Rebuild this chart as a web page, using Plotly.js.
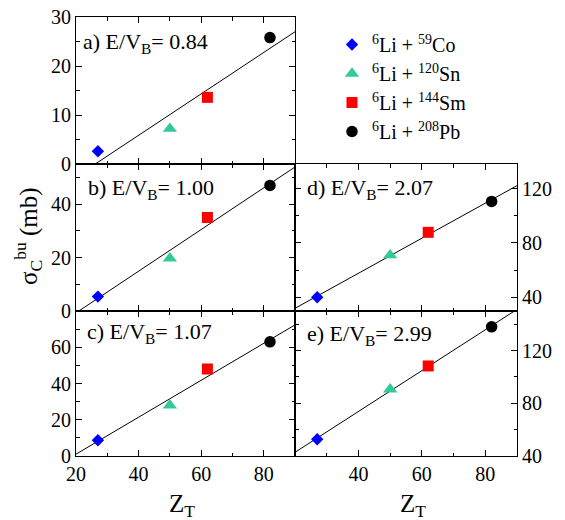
<!DOCTYPE html>
<html>
<head>
<meta charset="utf-8">
<script src="https://cdn.plot.ly/plotly-3.0.1.min.js"></script>
<style>html,body{margin:0;padding:0;background:#fff;}#chart{width:565px;height:520px;}</style>
</head>
<body>
<div id="chart"></div>
<script>
// ---- data ----
const Z_T = [27, 50, 62, 82];                       // target charge
const systems = ["<sup>6</sup>Li + <sup>59</sup>Co",
                 "<sup>6</sup>Li + <sup>120</sup>Sn",
                 "<sup>6</sup>Li + <sup>144</sup>Sm",
                 "<sup>6</sup>Li + <sup>208</sup>Pb"];
const symbols = ["diamond", "triangle-up", "square", "circle"];
const colors  = ["#0000ff", "#33c99a", "#ff0000", "#000000"];

const panelLabels = ["a) E/V<sub>B</sub>= 0.84", "b) E/V<sub>B</sub>= 1.00",
                     "c) E/V<sub>B</sub>= 1.07", "d) E/V<sub>B</sub>= 2.07",
                     "e) E/V<sub>B</sub>= 2.99"];
const sigmaA = [2.6, 7.2, 13.6, 25.8];   // E/VB = 0.84
const sigmaB = [5.4, 19.7, 35.0, 47.0];  // E/VB = 1.00
const sigmaC = [8.7, 28.0, 48.0, 63.0];  // E/VB = 1.07
const sigmaD = [40.1, 71.0, 87.8, 110.5];// E/VB = 2.07
const sigmaE = [52.7, 90.6, 108.3, 138.0];// E/VB = 2.99

const xRange = [20, 90];
const xTickVals = [20, 40, 60, 80];
const yRanges = [[0, 30], [0, 55], [0, 80], [30, 138], [40, 150]];
const yTickVals = [[0, 10, 20, 30], [0, 20, 40], [0, 20, 40, 60], [40, 80, 120], [40, 80, 120]];

// ---- layout helpers ----
const FONT = "Liberation Serif";
const W = 565, H = 520, mL = 76, mR = 48, mT = 17, mB = 64;
const pw = W - mL - mR, ph = H - mT - mB;
const px2x = p => (p - mL) / pw;
const px2y = p => (H - mB - p) / ph;

const colSplit = px2x(295);
const rowTop = px2y(164), rowMid = px2y(311);

const panels = [
  {vals: sigmaA, xa: "x",  ya: "y",  xd: [0, colSplit], yd: [rowTop, 1],     side: "left",  showX: false, ymin: 5,  lab: [81, 43]},
  {vals: sigmaB, xa: "x2", ya: "y2", xd: [0, colSplit], yd: [rowMid, rowTop], side: "left",  showX: false, ymin: 10, lab: [86, 189]},
  {vals: sigmaC, xa: "x3", ya: "y3", xd: [0, colSplit], yd: [0, rowMid],      side: "left",  showX: true,  ymin: 10, lab: [85, 333], xt: xTickVals},
  {vals: sigmaD, xa: "x4", ya: "y4", xd: [colSplit, 1], yd: [rowMid, rowTop], side: "right", showX: false, ymin: 20, lab: [305, 189]},
  {vals: sigmaE, xa: "x5", ya: "y5", xd: [colSplit, 1], yd: [0, rowMid],      side: "right", showX: true,  ymin: 20, lab: [305, 335], xt: [40, 60, 80]}
];

function linfit(xs, ys) {
  const n = xs.length;
  const mx = xs.reduce((a, b) => a + b, 0) / n;
  const my = ys.reduce((a, b) => a + b, 0) / n;
  let sxy = 0, sxx = 0;
  for (let i = 0; i < n; i++) { sxy += (xs[i] - mx) * (ys[i] - my); sxx += (xs[i] - mx) ** 2; }
  const m = sxy / sxx;
  return {m: m, b: my - m * mx};
}

const traces = [];
const layout = {
  width: W, height: H,
  margin: {l: mL, r: mR, t: mT, b: mB, pad: 0},
  paper_bgcolor: "#fff", plot_bgcolor: "#fff",
  font: {family: FONT, size: 20, color: "#000"},
  showlegend: true,
  legend: {x: px2x(332), y: px2y(25), xanchor: "left", yanchor: "top",
           bgcolor: "rgba(0,0,0,0)", font: {family: FONT, size: 20, color: "#000"},
           tracegroupgap: 0, itemwidth: 30},
  annotations: []
};

panels.forEach((p, k) => {
  const xs = k === 0 ? "" : String(k + 1);
  const f = linfit(Z_T, p.vals);
  traces.push({
    x: xRange, y: xRange.map(z => f.m * z + f.b),
    xaxis: p.xa, yaxis: p.ya, mode: "lines",
    line: {color: "#000", width: 1}, showlegend: false, hoverinfo: "skip"
  });
  for (let i = 0; i < Z_T.length; i++) {
    traces.push({
      x: [Z_T[i]], y: [p.vals[i]], xaxis: p.xa, yaxis: p.ya,
      mode: "markers", name: systems[i], legendgroup: "s" + i,
      showlegend: k === 0,
      marker: {symbol: symbols[i], color: colors[i],
               size: [9.5, 12.5, 11, 11.5][i], line: {width: 0}}
    });
  }
  layout["xaxis" + xs] = {
    domain: p.xd, anchor: p.ya, range: xRange,
    showline: true, linecolor: "#000", linewidth: 1, mirror: "ticks",
    ticks: "inside", ticklen: 6, tickwidth: 1, tickcolor: "#000",
    tickmode: "array", tickvals: p.xt || xTickVals,
    showticklabels: p.showX, tickfont: {family: FONT, size: 20, color: "#000"},
    minor: {dtick: 10, tick0: 0, ticks: "inside", ticklen: 3.5, tickcolor: "#000", showgrid: false},
    showgrid: false, zeroline: false, fixedrange: true
  };
  layout["yaxis" + xs] = {
    domain: p.yd, anchor: p.xa, range: yRanges[k], side: p.side,
    showline: true, linecolor: "#000", linewidth: 1, mirror: "ticks",
    ticks: "inside", ticklen: 6, tickwidth: 1, tickcolor: "#000",
    tickmode: "array", tickvals: yTickVals[k],
    tickfont: {family: FONT, size: 20, color: "#000"},
    minor: {dtick: p.ymin, tick0: 0, ticks: "inside", ticklen: 3.5, tickcolor: "#000", showgrid: false},
    showgrid: false, zeroline: false, fixedrange: true
  };
  layout.annotations.push({
    text: panelLabels[k], xref: "paper", yref: "paper",
    x: px2x(p.lab[0]), y: px2y(p.lab[1]), xanchor: "left", yanchor: "middle",
    showarrow: false, font: {family: FONT, size: 22, color: "#000"}
  });
});

// axis titles
layout.annotations.push({
  text: "σ<sub>C</sub><sup>bu</sup> (mb)", xref: "paper", yref: "paper",
  x: px2x(28), y: px2y(236), textangle: -90, xanchor: "center", yanchor: "middle",
  showarrow: false, font: {family: FONT, size: 25, color: "#000"}
});
[182, 413].forEach(cx => layout.annotations.push({
  text: "Z<sub>T</sub>", xref: "paper", yref: "paper",
  x: px2x(cx), y: px2y(505), xanchor: "center", yanchor: "middle",
  showarrow: false, font: {family: FONT, size: 25, color: "#000"}
}));

Plotly.newPlot("chart", traces, layout, {displayModeBar: false, staticPlot: true});
</script>
</body>
</html>
